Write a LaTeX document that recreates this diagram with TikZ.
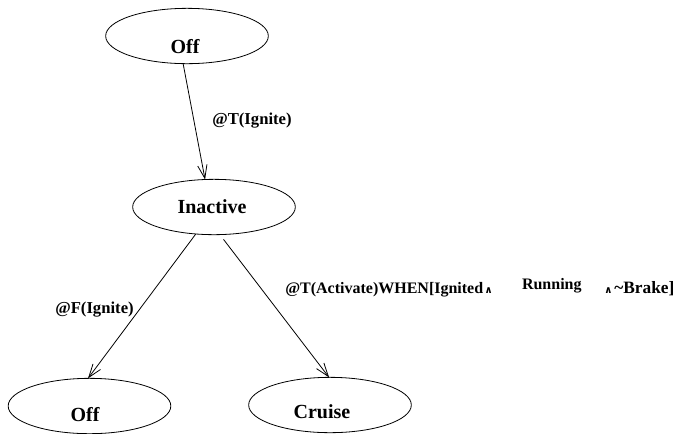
\documentclass[tikz,border=0pt]{standalone}
\usepackage{fontspec}
\setmainfont{Liberation Serif}
\newfontfamily\symfont{DejaVu Sans}
\usetikzlibrary{shapes.geometric,arrows.meta}
\newcommand{\smallwedge}{{\symfont\bfseries\fontsize{7.5}{9}\selectfont ∧}}
\begin{document}
\begin{tikzpicture}[x=0.75pt,y=-0.75pt,
  state/.style={draw,ellipse,line width=0.6pt,inner sep=0pt,outer sep=0pt,
    minimum width=122pt,minimum height=41.5pt},
  stext/.style={anchor=base,inner sep=0pt,font=\fontsize{15}{18}\selectfont\bfseries},
  ltext/.style={anchor=base west,inner sep=0pt,font=\fontsize{12.5}{15}\selectfont\bfseries},
  trans/.style={line width=0.6pt,-{Straight Barb[length=10pt,width=7pt,line width=0.6pt]}}]
\useasboundingbox (0,0) rectangle (682,433);
% states
\node[state] (off1) at (187,36) {};
\node[stext] (off1t) at (185,53) {Off};
\node[state] (inact) at (214,207) {};
\node[stext] (inactt) at (212,213) {Inactive};
\node[state] (off2) at (89.5,406) {};
\node[stext] (off2t) at (85,421) {Off};
\node[state] (cruise) at (330,405) {};
\node[stext] (cruiset) at (322,418) {Cruise};
% transitions
\draw[trans] (off1.262) -- (inact.108);
\draw[trans] (inact.236) -- (off2.93);
\draw[trans,shorten <=4.5pt] (inact.-78) -- (cruise.92);
% labels
\node[ltext] (l1) at (212,124) {@T(Ignite)};
\node[ltext] (l2) at (55,313) {@F(Ignite)};
\node[ltext,font=\fontsize{12}{14}\selectfont\bfseries] (l3) at (285,293)
  {@T(Activate)WHEN[Ignited\hspace{1pt}\smallwedge\hspace{22pt}\raisebox{3pt}{Running}\hspace{17pt}\smallwedge\hspace{1.5pt}{\fontsize{13}{15}\selectfont\textasciitilde Brake]}};
\end{tikzpicture}
\end{document}
